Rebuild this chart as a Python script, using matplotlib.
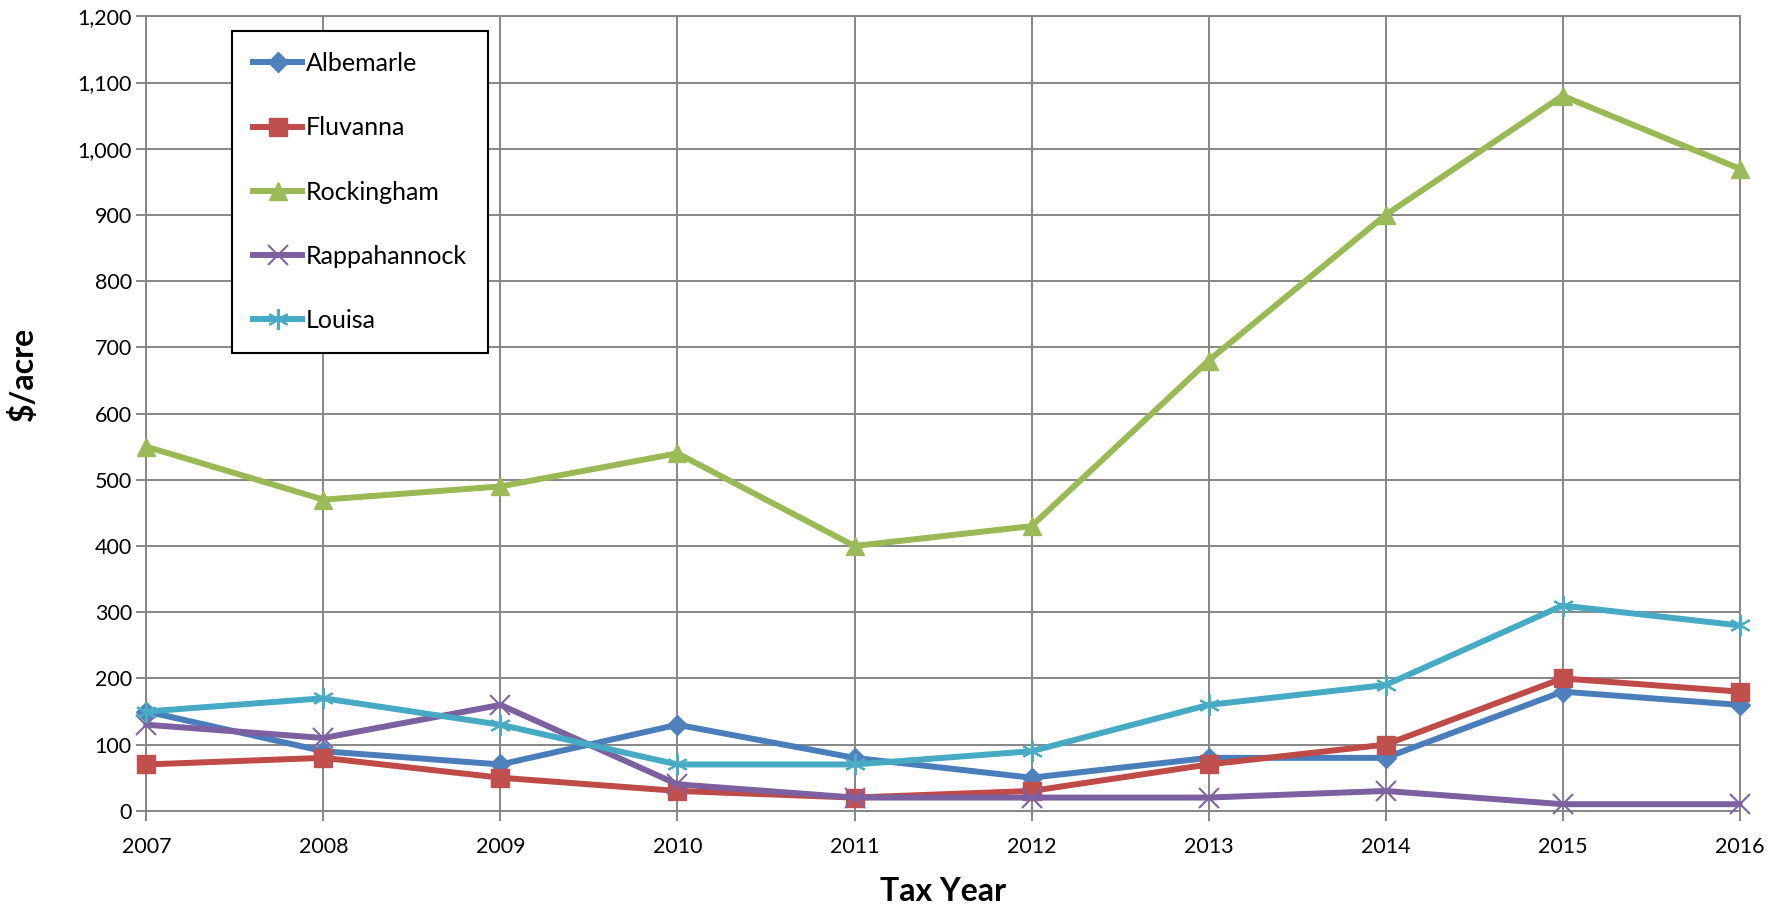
import matplotlib.pyplot as plt
from matplotlib.ticker import FuncFormatter, MultipleLocator

years = [2007, 2008, 2009, 2010, 2011, 2012, 2013, 2014, 2015, 2016]
albemarle = [150, 90, 70, 130, 80, 50, 80, 80, 180, 160]
fluvanna = [70, 80, 50, 30, 20, 30, 70, 100, 200, 180]
rockingham = [550, 470, 490, 540, 400, 430, 680, 900, 1080, 970]
rappahannock = [130, 110, 160, 40, 20, 20, 20, 30, 10, 10]
louisa = [150, 170, 130, 70, 70, 90, 160, 190, 310, 280]

plt.rcParams['font.family'] = ['Lato', 'DejaVu Sans']

fig = plt.figure(figsize=(17.86, 9.10), dpi=100)
ax = fig.add_axes([0.082, 0.109, 0.892, 0.873])

grid_c = '#868686'

# series
ax.plot(years, albemarle, color='#4A7EBB', lw=4.3, marker='D', ms=10,
        mfc='#4F81BD', mec='#4F81BD', label='Albemarle', clip_on=False, zorder=5)
ax.plot(years, fluvanna, color='#BE4B48', lw=4.3, marker='s', ms=13,
        mfc='#C0504D', mec='#C0504D', label='Fluvanna', clip_on=False, zorder=5)
ax.plot(years, rockingham, color='#98B954', lw=4.3, marker='^', ms=13,
        mfc='#9BBB59', mec='#9BBB59', label='Rockingham', clip_on=False, zorder=5)
ax.plot(years, rappahannock, color='#7D60A0', lw=4.3, marker='x', ms=14, mew=1.5,
        mec='#8064A2', label='Rappahannock', clip_on=False, zorder=5)
ax.plot(years, louisa, color='#46AAC5', lw=4.3, marker=(6, 2, 0), ms=15, mew=1.5,
        mec='#4BACC6', label='Louisa', clip_on=False, zorder=5)

ax.set_xlim(2007, 2016)
ax.set_ylim(0, 1200)
ax.set_xticks(years)
ax.yaxis.set_major_locator(MultipleLocator(100))
ax.yaxis.set_major_formatter(FuncFormatter(lambda v, p: f'{int(v):,}'))

ax.grid(True, color=grid_c, lw=1.4)
ax.set_axisbelow(True)
for s in ax.spines.values():
    s.set_color(grid_c)
    s.set_linewidth(1.4)
ax.tick_params(axis='both', colors=grid_c, length=7, width=1.4, labelcolor='black',
               labelsize=15.5)
ax.tick_params(axis='x', pad=12)

ax.set_xlabel('Tax Year', fontsize=23, fontweight='bold', labelpad=14)
ax.set_ylabel('$/acre', fontsize=23, fontweight='bold')
ax.yaxis.set_label_coords(-0.068, 0.55)

leg = ax.legend(loc='upper left', bbox_to_anchor=(0.130, 0.966),
                bbox_transform=fig.transFigure, fontsize=18, frameon=True,
                fancybox=False, edgecolor='black', labelspacing=1.65,
                handlelength=1.95, handletextpad=0.15, borderpad=0.85,
                borderaxespad=0)
leg.get_frame().set_linewidth(1.5)
leg.get_frame().set_alpha(1)

fig.savefig('out.png', dpi=100)
